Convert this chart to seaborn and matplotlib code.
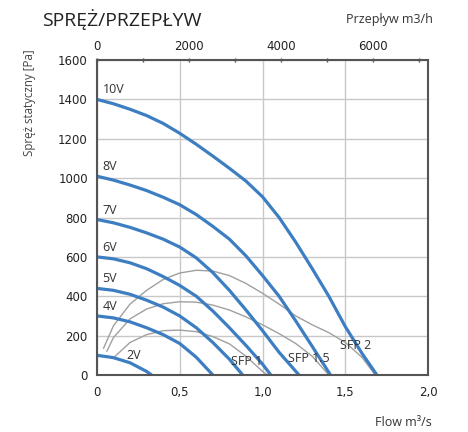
# ==========================================
# Spręż / przepływ - fan curves with SFP lines
# ==========================================

import pandas as pd
import seaborn as sns
import matplotlib.pyplot as plt

# Fan curves (flow m3/s, static pressure Pa)
fan_labels = ["10V", "8V", "7V", "6V", "5V", "4V", "2V"]

q_10v = [0, 0.1, 0.2, 0.3, 0.4, 0.5, 0.6, 0.7, 0.8, 0.9, 1.0, 1.1, 1.2, 1.3, 1.4, 1.5, 1.6, 1.69]
p_10v = [1400, 1378, 1350, 1318, 1278, 1228, 1172, 1112, 1050, 985, 905, 800, 675, 540, 400, 245, 110, 0]

q_8v = [0, 0.1, 0.2, 0.3, 0.4, 0.5, 0.6, 0.7, 0.8, 0.9, 1.0, 1.1, 1.2, 1.3, 1.41]
p_8v = [1010, 990, 965, 937, 903, 865, 815, 755, 690, 605, 505, 400, 275, 145, 0]

q_7v = [0, 0.1, 0.2, 0.3, 0.4, 0.5, 0.6, 0.7, 0.8, 0.9, 1.0, 1.1, 1.22]
p_7v = [790, 773, 750, 722, 690, 650, 595, 520, 430, 330, 225, 115, 0]

q_6v = [0, 0.1, 0.2, 0.3, 0.4, 0.5, 0.6, 0.7, 0.8, 0.9, 1.0, 1.05]
p_6v = [600, 590, 570, 540, 500, 455, 400, 325, 240, 150, 55, 0]

q_5v = [0, 0.1, 0.2, 0.3, 0.4, 0.5, 0.6, 0.7, 0.8, 0.88]
p_5v = [440, 430, 410, 380, 345, 300, 240, 165, 80, 0]

q_4v = [0, 0.1, 0.2, 0.3, 0.4, 0.5, 0.6, 0.7]
p_4v = [300, 290, 270, 240, 205, 160, 90, 0]

q_2v = [0, 0.1, 0.2, 0.3, 0.33]
p_2v = [100, 88, 62, 18, 0]

# SFP lines
sfp_labels = ["SFP 1", "SFP 1.5", "SFP 2"]

q_sfp1 = [0.11, 0.2, 0.3, 0.4, 0.5, 0.6, 0.7, 0.8, 0.9, 1.0, 1.03]
p_sfp1 = [95, 165, 205, 225, 228, 220, 195, 158, 95, 18, 0]

q_sfp15 = [0.06, 0.1, 0.2, 0.3, 0.4, 0.5, 0.6, 0.7, 0.8, 0.9, 1.0, 1.1, 1.2, 1.3, 1.4]
p_sfp15 = [120, 190, 285, 335, 362, 372, 370, 355, 330, 295, 255, 210, 160, 95, 0]

q_sfp2 = [0.04, 0.1, 0.2, 0.3, 0.4, 0.5, 0.6, 0.7, 0.8, 0.9, 1.0, 1.1, 1.2, 1.3, 1.4, 1.5, 1.6, 1.68]
p_sfp2 = [135, 250, 360, 430, 485, 518, 532, 528, 505, 465, 415, 360, 300, 255, 215, 165, 90, 0]

# Tick labels
y_ticks = [0, 200, 400, 600, 800, 1000, 1200, 1400, 1600]
x_ticks = [0, 0.5, 1.0, 1.5, 2.0]
x_tick_labels = ["0", "0,5", "1,0", "1,5", "2,0"]
top_ticks = [0, 2000, 4000, 6000]
top_minor = [1000, 3000, 5000, 7000]

# Build long tables
fans = pd.concat([
    pd.DataFrame({"q": q, "p": p, "curve": name})
    for name, q, p in zip(fan_labels,
                          [q_10v, q_8v, q_7v, q_6v, q_5v, q_4v, q_2v],
                          [p_10v, p_8v, p_7v, p_6v, p_5v, p_4v, p_2v])
])
sfp = pd.concat([
    pd.DataFrame({"q": q, "p": p, "curve": name})
    for name, q, p in zip(sfp_labels,
                          [q_sfp1, q_sfp15, q_sfp2],
                          [p_sfp1, p_sfp15, p_sfp2])
])

# Style
sns.set_style("white")
plt.rcParams["font.family"] = ["Open Sans", "DejaVu Sans"]

fig = plt.figure(figsize=(4.68, 4.32), dpi=100)
ax = fig.add_axes([0.207, 0.132, 0.708, 0.729])

blue = "#3d7ec2"
text_col = "#333333"
tick_font = {"family": ["DejaVu Sans"], "size": 8.5}

# SFP lines (grey, thin)
sns.lineplot(data=sfp, x="q", y="p", units="curve", estimator=None, sort=False,
             color="#a0a0a0", linewidth=1.0, ax=ax, legend=False)

# Fan curves (blue)
sns.lineplot(data=fans, x="q", y="p", units="curve", estimator=None, sort=False,
             color=blue, linewidth=2.3, solid_joinstyle="round", ax=ax, legend=False)

# Curve labels
for name, q, p in zip(fan_labels,
                      [q_10v, q_8v, q_7v, q_6v, q_5v, q_4v],
                      [p_10v, p_8v, p_7v, p_6v, p_5v, p_4v]):
    ax.text(0.035, p[0] + 15, name, fontsize=9, color=text_col, ha="left", va="bottom")
ax.text(0.22, 100, "2V", fontsize=9, color=text_col, ha="center", va="center")

ax.text(0.906, 71, "SFP 1", fontsize=9, color=text_col, ha="center", va="center")
ax.text(1.28, 86, "SFP 1.5", fontsize=9, color=text_col, ha="center", va="center")
ax.text(1.56, 152, "SFP 2", fontsize=9, color=text_col, ha="center", va="center")

# Axes, grid, ticks
ax.set_xlim(0, 2.0)
ax.set_ylim(0, 1600)
ax.set_xticks(x_ticks)
ax.set_xticklabels(x_tick_labels, fontdict=tick_font)
ax.set_yticks(y_ticks)
ax.set_yticklabels([str(v) for v in y_ticks], fontdict=tick_font)
ax.grid(True, color="#c8c8c8", linewidth=1.0)
ax.set_axisbelow(True)
ax.set_xlabel("")
ax.set_ylabel("")
ax.tick_params(axis="both", labelcolor="#222222", color="#444444",
               length=3, width=1.0, direction="out")
ax.tick_params(axis="x", pad=5)

for side in ["left", "bottom", "top", "right"]:
    ax.spines[side].set_visible(True)
    ax.spines[side].set_color("#555555")
    ax.spines[side].set_linewidth(1.5)

# Top axis in m3/h
top = ax.secondary_xaxis("top", functions=(lambda x: x * 3600, lambda x: x / 3600))
top.set_xticks(top_ticks)
top.set_xticklabels([str(v) for v in top_ticks], fontdict=tick_font)
top.set_xticks(top_minor, minor=True)
top.tick_params(axis="x", which="both", labelcolor="#222222", color="#444444",
                length=3, width=1.0, direction="inout")
top.spines["top"].set_visible(False)

# Titles and labels
fig.text(0.09, 0.954, "SPRĘŻ/PRZEPŁYW", fontsize=14, color="#222222", ha="left", va="center")
fig.text(0.833, 0.954, "Przepływ m3/h", fontsize=9, color=text_col, ha="center", va="center")
fig.text(0.064, 0.762, "Spręż statyczny [Pa]", fontsize=8.3, color="#444444",
         rotation=90, ha="center", va="center")
fig.text(0.861, 0.022, "Flow m³/s", fontsize=9, color=text_col, ha="center", va="center")

plt.savefig("out.png", dpi=100)
